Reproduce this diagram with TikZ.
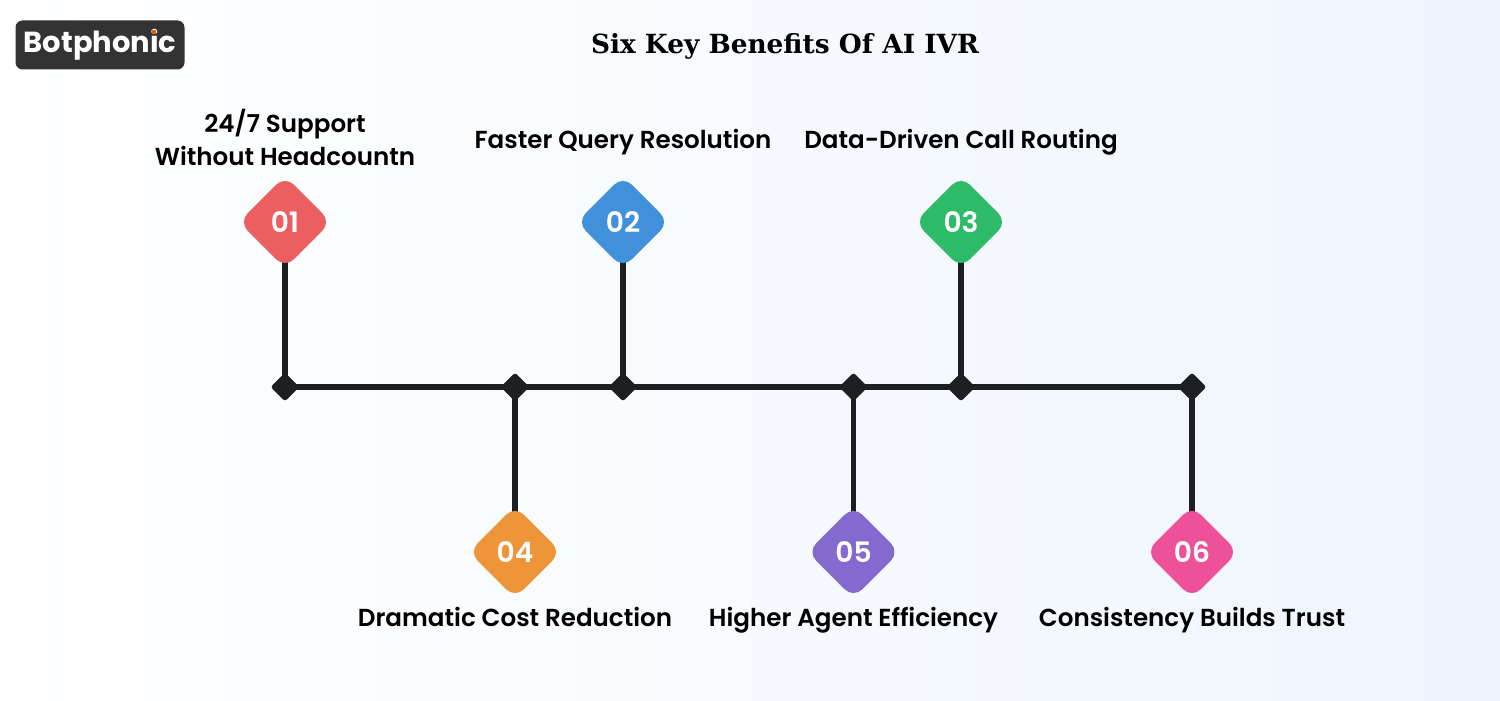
\documentclass[tikz,border=0pt]{standalone}
\usepackage{fontspec}
\usetikzlibrary{shapes.geometric,backgrounds}
\setmainfont{Poppins}[BoldFont={Poppins SemiBold}]
\newfontfamily\logofont{Poppins}
\newfontfamily\titlefont{DejaVu Serif}
\definecolor{barcol}{HTML}{1D1F23}
\definecolor{logocol}{HTML}{333333}
\definecolor{dotcol}{HTML}{E8590C}
\definecolor{onecol}{HTML}{EB5F60}
\definecolor{twocol}{HTML}{4090DA}
\definecolor{threecol}{HTML}{2DBB68}
\definecolor{fourcol}{HTML}{EE9539}
\definecolor{fivecol}{HTML}{8469CF}
\definecolor{sixcol}{HTML}{EC5199}
\definecolor{bgleft}{HTML}{FFFFFF}
\definecolor{bgright}{HTML}{EEF5FD}
\tikzset{
    badge/.style={diamond, fill=#1, text=white, rounded corners=7pt, minimum size=1.85cm, inner sep=0pt, font=\fontsize{16}{16}\selectfont\bfseries},
    joint/.style={diamond, fill=barcol, rounded corners=1.5pt, minimum size=0.58cm, inner sep=0pt},
    caption/.style={align=center, text=black, font=\fontsize{14}{18.6}\selectfont\bfseries},
    bar/.style={draw=barcol, line width=3.3pt}
}

\begin{document}
\begin{tikzpicture}
    \useasboundingbox (0, 0) rectangle (30, 14);

    \node[fill=logocol, rounded corners=4pt, minimum width=3.38cm, minimum height=0.98cm, inner sep=0pt, text=white, font=\logofont\fontsize{16.5}{16.5}\selectfont\bfseries] (logo) at (2, 13.1) {Botphonic};
    \node[fill=dotcol, minimum size=0.08cm, inner sep=0pt] (dot) at (3.08, 13.36) {};
    \node[font=\titlefont\fontsize{15}{15}\selectfont\bfseries] (title) at (15.7, 13.08) {Six Key Benefits Of AI IVR};

    \node[joint] (J1) at (5.7, 6.26) {};
    \node[joint] (J4) at (10.3, 6.26) {};
    \node[joint] (J2) at (12.46, 6.26) {};
    \node[joint] (J5) at (17.07, 6.26) {};
    \node[joint] (J3) at (19.22, 6.26) {};
    \node[joint] (J6) at (23.84, 6.26) {};

    \node[badge=onecol] (A) at (5.7, 9.56) {01};
    \node[badge=twocol] (B) at (12.46, 9.56) {02};
    \node[badge=threecol] (C) at (19.22, 9.56) {03};
    \node[badge=fourcol] (D) at (10.3, 2.96) {04};
    \node[badge=fivecol] (E) at (17.07, 2.96) {05};
    \node[badge=sixcol] (F) at (23.84, 2.96) {06};

    \node[caption] (textA) at (5.7, 11.25) {24/7 Support\\Without Headcountn};
    \node[caption, anchor=base] (textB) at (12.46, 11.02) {Faster Query Resolution};
    \node[caption, anchor=base] (textC) at (19.22, 11.02) {Data-Driven Call Routing};
    \node[caption, anchor=base] (textD) at (10.3, 1.48) {Dramatic Cost Reduction};
    \node[caption, anchor=base] (textE) at (17.07, 1.48) {Higher Agent Efficiency};
    \node[caption, anchor=base] (textF) at (23.84, 1.48) {Consistency Builds Trust};

    \begin{scope}[on background layer]
        \shade[left color=bgleft, right color=bgright] (0, 0) rectangle (30, 14);
        \draw[bar] (J1.center) -- (J6.center);
        \draw[bar] (A.center) -- (J1.center);
        \draw[bar] (B.center) -- (J2.center);
        \draw[bar] (C.center) -- (J3.center);
        \draw[bar] (D.center) -- (J4.center);
        \draw[bar] (E.center) -- (J5.center);
        \draw[bar] (F.center) -- (J6.center);
    \end{scope}
\end{tikzpicture}
\end{document}
